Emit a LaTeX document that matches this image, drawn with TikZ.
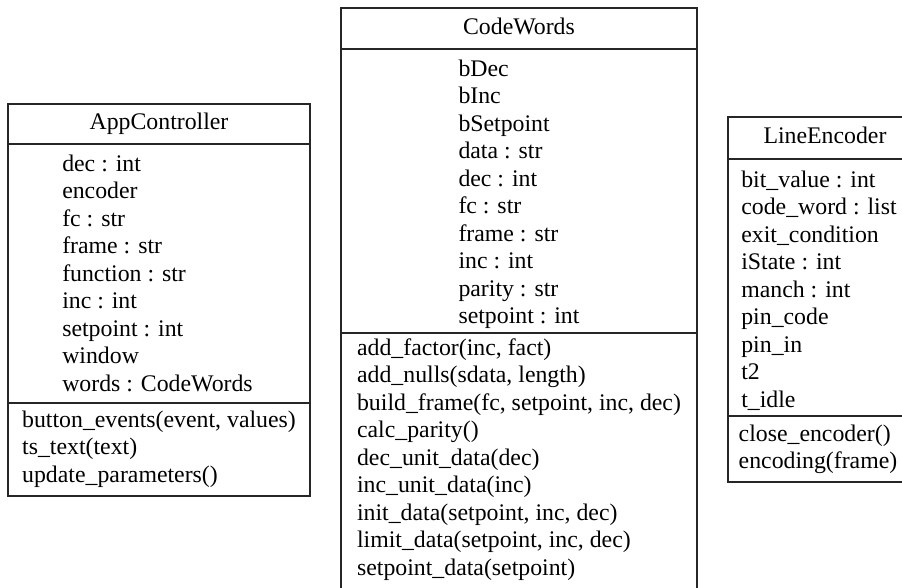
\documentclass[tikz,border=0pt]{standalone}
\usepackage{fontspec}
\setmainfont{Liberation Serif}
\newcommand\us{\textunderscore}
\begin{document}
\begin{tikzpicture}[x=1pt,y=-1pt,
  umlbox/.style={draw=black!85, line width=1.3pt},
  txt/.style={font=\fontsize{23.8}{27.5}\selectfont, inner sep=0pt, align=left, anchor=north, text=black},
  head/.style={font=\fontsize{23.8}{27.5}\selectfont, inner sep=0pt, anchor=center, text=black}]
\useasboundingbox (0,0) rectangle (902,587);
\clip (0,0) rectangle (902,587);
\fill[white] (0,0) rectangle (902,587);

% AppController
\draw[umlbox] (8,104) rectangle (310,496);
\draw[umlbox] (8,144) -- (310,144);
\draw[umlbox] (8,403) -- (310,403);
\node[head] (acname) at (159,124) {\strut AppController};
\node[txt] (acattr) at (157.5,152) {\strut dec : int\\\strut encoder\\\strut fc : str\\\strut frame : str\\\strut function : str\\\strut inc : int\\\strut setpoint : int\\\strut window\\\strut words : CodeWords};
\node[txt] (acmeth) at (159,408) {\strut button\us events(event, values)\\\strut ts\us text(text)\\\strut update\us parameters()};

% CodeWords
\draw[umlbox] (341,8) rectangle (697,592);
\draw[umlbox] (341,49) -- (697,49);
\draw[umlbox] (341,333) -- (697,333);
\node[head] (cwname) at (519,28.5) {\strut CodeWords};
\node[txt] (cwattr) at (519,57) {\strut bDec\\\strut bInc\\\strut bSetpoint\\\strut data : str\\\strut dec : int\\\strut fc : str\\\strut frame : str\\\strut inc : int\\\strut parity : str\\\strut setpoint : int};
\node[txt] (cwmeth) at (519,336) {\strut add\us factor(inc, fact)\\\strut add\us nulls(sdata, length)\\\strut build\us frame(fc, setpoint, inc, dec)\\\strut calc\us parity()\\\strut dec\us unit\us data(dec)\\\strut inc\us unit\us data(inc)\\\strut init\us data(setpoint, inc, dec)\\\strut limit\us data(setpoint, inc, dec)\\\strut setpoint\us data(setpoint)};

% LineEncoder
\draw[umlbox] (728,117) rectangle (920,482);
\draw[umlbox] (728,159) -- (920,159);
\draw[umlbox] (728,416) -- (920,416);
\node[head] (lename) at (825,138) {\strut LineEncoder};
\node[txt] (leattr) at (819,168) {\strut bit\us value : int\\\strut code\us word : list\\\strut exit\us condition\\\strut iState : int\\\strut manch : int\\\strut pin\us code\\\strut pin\us in\\\strut t2\\\strut t\us idle};
\node[txt] (lemeth) at (818,422) {\strut close\us encoder()\\\strut encoding(frame)};
\end{tikzpicture}
\end{document}
